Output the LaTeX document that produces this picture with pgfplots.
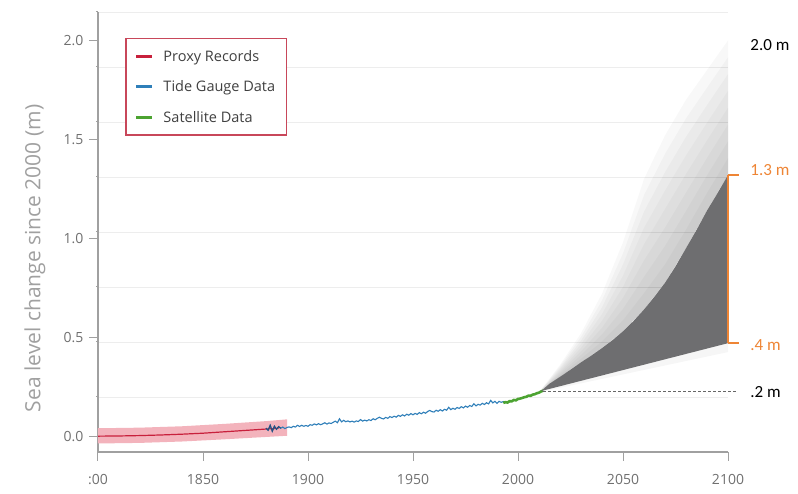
\documentclass[border=0pt]{standalone}
\usepackage{pgfplots}
\usepgfplotslibrary{fillbetween}
\pgfplotsset{compat=1.18}
\usepackage{pgfplotstable}
\usepackage{fontspec}
\setmainfont{Open Sans}
\newfontfamily\calfont{Carlito}

\definecolor{axgray}{HTML}{A0A0A0}
\definecolor{lblgray}{HTML}{707070}
\definecolor{proxyred}{HTML}{C8203C}
\definecolor{bandpink}{HTML}{F3B3BC}
\definecolor{tideblue}{HTML}{2F7FB9}
\definecolor{tidedark}{HTML}{2B4F7E}
\definecolor{satgreen}{HTML}{4CA331}
\definecolor{projgray}{HTML}{6E6E70}
\definecolor{rangeorange}{HTML}{EE8535}
\definecolor{legendred}{HTML}{C8475A}

% upper edge of the likely range (u) and the fading haze above it (c1..c8)
\pgfplotstableread{
year  u     c1    c2    c3    c4    c5    c6    c7    c8
2011  0.228 0.229 0.230 0.231 0.232 0.232 0.233 0.234 0.235
2020  0.300 0.308 0.315 0.323 0.330 0.338 0.345 0.353 0.360
2030  0.373 0.391 0.410 0.428 0.447 0.465 0.483 0.502 0.520
2040  0.445 0.479 0.514 0.548 0.583 0.617 0.651 0.686 0.720
2050  0.530 0.586 0.643 0.699 0.755 0.811 0.868 0.924 0.980
2060  0.640 0.723 0.805 0.888 0.970 1.053 1.135 1.218 1.300
2070  0.775 0.868 0.961 1.054 1.148 1.241 1.334 1.427 1.520
2080  0.950 1.044 1.138 1.231 1.325 1.419 1.513 1.606 1.700
2090  1.140 1.229 1.318 1.406 1.495 1.584 1.673 1.761 1.850
2100  1.320 1.405 1.490 1.575 1.660 1.745 1.830 1.915 2.000
}\haze

\begin{document}
\begin{tikzpicture}
\begin{axis}[
  scale only axis, width=630pt, height=440pt,
  xmin=1800, xmax=2100, ymin=-0.08, ymax=2.144,
  axis x line*=bottom, axis y line*=left,
  axis line style={axgray, line width=1.2pt},
  tick style={axgray, line width=1pt},
  tick align=outside, major tick length=9pt, minor tick length=2pt,
  xtick={1800,1850,1900,1950,2000,2050,2100},
  xticklabels={{:00},1850,1900,1950,2000,2050,2100},
  ytick={0,0.5,1,1.5,2},
  minor ytick={0.198,0.476,0.754,1.032,1.31,1.588,1.866,2.144},
  yminorgrids, minor grid style={black!7, line width=0.8pt},
  yticklabel style={/pgf/number format/.cd, fixed, fixed zerofill, precision=1},
  /pgf/number format/assume math mode=true,
  ticklabel style={font=\fontsize{14}{16}\selectfont, text=lblgray},
  xticklabel shift=10pt, yticklabel shift=2pt,
  ylabel={Sea level change since 2000 (m)},
  ylabel style={at={(axis description cs:-0.1,0.44)}, anchor=center,
    font=\fontsize{21}{24}\selectfont, text=axgray},
  clip=false,
  legend cell align=left,
  legend style={at={(axis cs:1813,2.013)}, anchor=north west,
    draw=legendred, line width=1.2pt, fill=white,
    inner xsep=9pt, inner ysep=9.5pt, row sep=14pt,
    font=\fontsize{14.5}{16}\selectfont, text=black!75,
    /tikz/every odd column/.append style={column sep=8pt}},
  legend image code/.code={\draw[#1] (0pt,0pt) -- (16pt,0pt);},
  legend image post style={line width=2.6pt},
]

% proxy uncertainty band
\addplot[fill=bandpink, draw=none, forget plot] coordinates {
  (1800,0.040) (1820,0.043) (1840,0.050) (1860,0.062) (1880,0.076) (1890,0.085)
  (1890,0.002) (1880,-0.004) (1860,-0.016) (1840,-0.027) (1820,-0.034) (1800,-0.037)
} -- cycle;

% proxy records
\addplot[proxyred, line width=1.2pt] coordinates {
  (1800,0.000) (1810,0.001) (1820,0.003) (1830,0.006) (1840,0.010) (1850,0.015)
  (1860,0.022) (1870,0.029) (1880,0.036) (1886,0.040)
};
\addlegendentry{Proxy Records}

% tide gauge data
\addplot[tideblue, line width=1.1pt] coordinates {
  (1880,0.040) (1881,0.030) (1882,0.055) (1883,0.025) (1884,0.050) (1885,0.035)
  (1886,0.048) (1887,0.040) (1888,0.046) (1889,0.038) (1890,0.044) (1891,0.047)
  (1892,0.043) (1893,0.050) (1894,0.046) (1895,0.055) (1896,0.049) (1897,0.055)
  (1898,0.050) (1899,0.054) (1900,0.050) (1901,0.058) (1902,0.055) (1903,0.062)
  (1904,0.057) (1905,0.063) (1906,0.058) (1907,0.062) (1908,0.068) (1909,0.061)
  (1910,0.067) (1911,0.064) (1912,0.070) (1913,0.076) (1914,0.068) (1915,0.088)
  (1916,0.072) (1917,0.080) (1918,0.073) (1919,0.077) (1920,0.072) (1921,0.076)
  (1922,0.071) (1923,0.077) (1924,0.074) (1925,0.084) (1926,0.076) (1927,0.081)
  (1928,0.077) (1929,0.083) (1930,0.079) (1931,0.088) (1932,0.083) (1933,0.090)
  (1934,0.096) (1935,0.090) (1936,0.087) (1937,0.095) (1938,0.090) (1939,0.099)
  (1940,0.094) (1941,0.101) (1942,0.096) (1943,0.105) (1944,0.100) (1945,0.108)
  (1946,0.102) (1947,0.111) (1948,0.106) (1949,0.114) (1950,0.108) (1951,0.115)
  (1952,0.110) (1953,0.119) (1954,0.113) (1955,0.121) (1956,0.116) (1957,0.125)
  (1958,0.130) (1959,0.124) (1960,0.122) (1961,0.131) (1962,0.126) (1963,0.134)
  (1964,0.127) (1965,0.136) (1966,0.131) (1967,0.146) (1968,0.134) (1969,0.141)
  (1970,0.136) (1971,0.145) (1972,0.140) (1973,0.149) (1974,0.143) (1975,0.152)
  (1976,0.146) (1977,0.155) (1978,0.150) (1979,0.164) (1980,0.153) (1981,0.161)
  (1982,0.157) (1983,0.166) (1984,0.160) (1985,0.169) (1986,0.163) (1987,0.181)
  (1988,0.168) (1989,0.176) (1990,0.166) (1991,0.176) (1992,0.171) (1993,0.175)
  (1994,0.170) (1995,0.174)
};
\addlegendentry{Tide Gauge Data}

\addplot[tidedark, line width=1.1pt, forget plot] coordinates {
  (1880,0.040) (1881,0.030) (1882,0.055) (1883,0.025) (1884,0.050) (1885,0.035)
  (1886,0.048) (1887,0.040)
};

% satellite data
\addplot[satgreen, line width=2.6pt] coordinates {
  (1993,0.168) (1994,0.172) (1995,0.170) (1996,0.177) (1997,0.176) (1998,0.183)
  (1999,0.181) (2000,0.188) (2001,0.190) (2002,0.193) (2003,0.197) (2004,0.199)
  (2005,0.205) (2006,0.204) (2007,0.210) (2008,0.212) (2009,0.217) (2010,0.220)
  (2011,0.226) (2012,0.230)
};
\addlegendentry{Satellite Data}

% projection haze above the likely range
\addplot[draw=none, name path=u, forget plot] table[x=year, y=u] {\haze};
\pgfplotsinvokeforeach{1,...,8}{
  \addplot[draw=none, name path=c#1, forget plot] table[x=year, y=c#1] {\haze};
  \addplot[fill=black, fill opacity=0.028, draw=none, forget plot]
    fill between[of=u and c#1];
}
% haze below
\addplot[fill=black, fill opacity=0.035, draw=none, forget plot] coordinates {
  (2011,0.228) (2100,0.47) (2100,0.425) (2011,0.224)
} -- cycle;

% likely range
\addplot[fill=projgray, draw=none, forget plot] coordinates {
  (2011,0.228) (2015,0.265) (2020,0.30) (2025,0.336) (2030,0.373) (2035,0.408)
  (2040,0.445) (2045,0.485) (2050,0.53) (2055,0.582) (2060,0.64) (2065,0.705)
  (2070,0.775) (2075,0.858) (2080,0.95) (2085,1.042) (2090,1.14) (2095,1.228)
  (2100,1.32) (2100,0.47)
} -- cycle;

% annotations
\draw[black!60, line width=0.7pt, dash pattern=on 3pt off 2pt]
  (axis cs:2012,0.225) -- (axis cs:2104,0.225);
\draw[rangeorange, line width=2pt]
  (axis cs:2100,1.32) -- (axis cs:2100,0.47);
\draw[rangeorange, line width=1.5pt]
  (axis cs:2100,1.32) -- (axis cs:2105,1.32)
  (axis cs:2100,0.47) -- (axis cs:2105,0.47);
\node[anchor=west, font=\calfont\fontsize{17}{19}\selectfont, text=black]
  at (axis cs:2109,1.978) {2.0 m};
\node[anchor=west, font=\calfont\fontsize{17}{19}\selectfont, text=rangeorange]
  at (axis cs:2109,1.346) {1.3 m};
\node[anchor=west, font=\calfont\fontsize{17}{19}\selectfont, text=rangeorange]
  at (axis cs:2109,0.461) {.4 m};
\node[anchor=west, font=\calfont\fontsize{17}{19}\selectfont, text=black]
  at (axis cs:2109,0.223) {.2 m};
\end{axis}
\pgfresetboundingbox
\path[use as bounding box] ([xshift=-98pt,yshift=-42pt]current axis.south west)
  rectangle ([xshift=70pt,yshift=12pt]current axis.north east);
\end{tikzpicture}
\end{document}
